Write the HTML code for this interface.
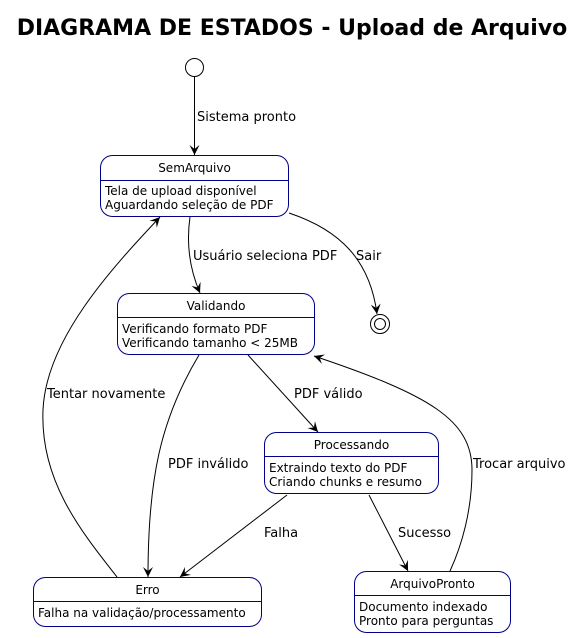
<!DOCTYPE html>
<html><head><meta charset="utf-8"><style>
html,body{margin:0;padding:0;background:#fff;}
svg{display:block;}
text{font-family:"DejaVu Sans","Liberation Sans",sans-serif;fill:#000;}
.s{fill:#fff;stroke:#000088;stroke-width:1;}
.d{stroke:#000088;stroke-width:1;}
.e{fill:none;stroke:#000;stroke-width:1;}
.t{font-size:12px;}
.l{font-size:13px;}
.n{font-size:12px;text-anchor:middle;}
</style></head><body>
<svg width="584" height="638" viewBox="0 0 584 638" xmlns="http://www.w3.org/2000/svg">
<defs><marker id="a" markerWidth="12" markerHeight="12" refX="10" refY="5" orient="auto" markerUnits="userSpaceOnUse"><path d="M0,0 L10,5 L0,10 L4,5 Z" fill="#000"/></marker></defs>
<text x="292" y="35" text-anchor="middle" style="font-size:22px;font-weight:bold">DIAGRAMA DE ESTADOS - Upload de Arquivo</text>

<circle cx="194.5" cy="67.5" r="9" fill="#fff" stroke="#000"/>
<circle cx="380" cy="324" r="9.5" fill="#fff" stroke="#000"/>
<circle cx="380" cy="324" r="5.5" fill="#fff" stroke="#000"/>

<rect class="s" x="100.5" y="155.5" width="188" height="61" rx="12"/>
<line class="d" x1="100.5" y1="180.5" x2="288.5" y2="180.5"/>
<text class="n" x="194.5" y="172">SemArquivo</text>
<text class="t" x="105" y="195">Tela de upload disponível</text>
<text class="t" x="105" y="209">Aguardando seleção de PDF</text>

<rect class="s" x="117.5" y="293.5" width="197" height="61" rx="12"/>
<line class="d" x1="117.5" y1="317.5" x2="314.5" y2="317.5"/>
<text class="n" x="216" y="310">Validando</text>
<text class="t" x="122" y="333">Verificando formato PDF</text>
<text class="t" x="122" y="347">Verificando tamanho &lt; 25MB</text>

<rect class="s" x="264.5" y="432.5" width="174" height="61" rx="12"/>
<line class="d" x1="264.5" y1="456.5" x2="438.5" y2="456.5"/>
<text class="n" x="351.5" y="449">Processando</text>
<text class="t" x="269" y="472">Extraindo texto do PDF</text>
<text class="t" x="269" y="486">Criando chunks e resumo</text>

<rect class="s" x="33.5" y="577.5" width="228" height="49" rx="12"/>
<line class="d" x1="33.5" y1="601.5" x2="261.5" y2="601.5"/>
<text class="n" x="147.5" y="594">Erro</text>
<text class="t" x="38" y="617">Falha na validação/processamento</text>

<rect class="s" x="354.5" y="571.5" width="156" height="61" rx="12"/>
<line class="d" x1="354.5" y1="595.5" x2="510.5" y2="595.5"/>
<text class="n" x="432.5" y="588">ArquivoPronto</text>
<text class="t" x="359" y="611">Documento indexado</text>
<text class="t" x="359" y="625">Pronto para perguntas</text>

<path class="e" marker-end="url(#a)" d="M194.5,77 L194.5,155"/>
<text class="l" x="197" y="121">Sistema pronto</text>

<path class="e" marker-end="url(#a)" d="M190,217 C186,245 190,270 200,293"/>
<text class="l" x="193" y="260">Usuário seleciona PDF</text>

<path class="e" marker-end="url(#a)" d="M289,213 C340,230 370,260 377,314"/>
<text class="l" x="356" y="260">Sair</text>

<path class="e" marker-end="url(#a)" d="M248,355 L318,432"/>
<text class="l" x="294" y="398">PDF válido</text>

<path class="e" marker-end="url(#a)" d="M199,355 C160,420 148,480 148,577"/>
<text class="l" x="168" y="468">PDF inválido</text>

<path class="e" marker-end="url(#a)" d="M117,577 C80,530 40,480 43,410 C46,340 110,270 160,217"/>
<text class="l" x="47" y="398">Tentar novamente</text>

<path class="e" marker-end="url(#a)" d="M287,495 L180,577"/>
<text class="l" x="264" y="537">Falha</text>

<path class="e" marker-end="url(#a)" d="M369,495 L408,571"/>
<text class="l" x="398" y="537">Sucesso</text>

<path class="e" marker-end="url(#a)" d="M450,571 C462,545 472,510 472,470 C472,420 430,395 314,356"/>
<text class="l" x="473" y="468">Trocar arquivo</text>
</svg>
</body></html>
